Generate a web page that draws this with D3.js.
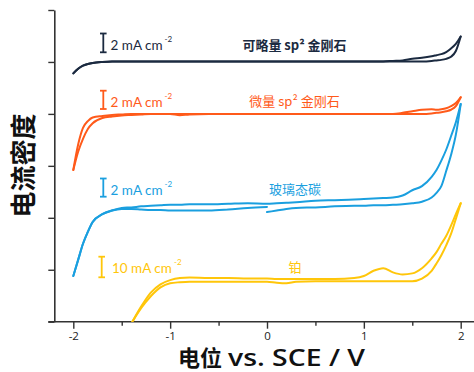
<!DOCTYPE html>
<html><head><meta charset="utf-8">
<script src="https://cdn.jsdelivr.net/npm/d3@7"></script>
<style>body{margin:0;background:#fff;} svg{display:block;}</style>
</head><body>
<svg id="c" width="474" height="372"></svg>
<script>
// ---- data (potential in V vs. SCE, current density in stacked plot units) ----
const potential = [-2, -1.95, -1.9, -1.85, -1.8, -1.7, -1.6, -1.5, -1.4, -1.3, -1.2, -1.1, -1, -0.9, -0.8, -0.6, -0.4, -0.2, 0, 0.1, 0.2, 0.3, 0.5, 0.7, 0.9, 1, 1.1, 1.2, 1.3, 1.4, 1.5, 1.6, 1.7, 1.75, 1.8, 1.85, 1.9, 1.95, 2];
const xTickValues = [-2, -1, 0, 1, 2];
const xMinorTickValues = [-1.5, -0.5, 0.5, 1.5];
const yTickValues = [0, 10, 20, 30, 40, 50, 60];
const seriesNames = ["可略量 sp² 金刚石", "微量 sp² 金刚石", "玻璃态碳", "铂"];
const scaleBarLabels = ["2 mA cm", "2 mA cm", "2 mA cm", "10 mA cm"];
const xTitleParts = ["电位", "vs. SCE / V"];
const yTitle = "电流密度";

const negligibleFwd = [47.8, 48.7, 49.3, 49.6, 49.8, 50.0, 50.1, 50.1, 50.1, 50.1, 50.1, 50.1, 50.1, 50.1, 50.1, 50.1, 50.1, 50.1, 50.1, 50.1, 50.1, 50.1, 50.1, 50.1, 50.1, 50.1, 50.1, 50.1, 50.2, 50.3, 50.6, 50.8, 51.1, 51.3, 51.5, 51.9, 52.6, 53.5, 54.9];
const negligibleRev = [47.8, 48.7, 49.3, 49.6, 49.8, 50.0, 50.1, 50.1, 50.1, 50.1, 50.1, 50.1, 50.1, 50.1, 50.1, 50.1, 50.1, 50.1, 50.1, 50.1, 50.1, 50.1, 50.1, 50.1, 50.1, 50.1, 50.1, 50.1, 50.1, 50.1, 50.1, 50.1, 50.2, 50.3, 50.4, 50.6, 51.0, 52.1, 54.9];

const traceFwd = [29.2, 32.7, 35.2, 37.1, 38.2, 39.2, 39.5, 39.7, 39.8, 39.9, 40.0, 40.0, 40.0, 40.0, 40.0, 40.0, 40.0, 40.0, 40.0, 40.0, 40.0, 40.0, 40.0, 40.0, 40.0, 40.0, 40.0, 40.0, 40.0, 40.2, 40.5, 40.8, 40.9, 40.8, 40.9, 41.1, 41.5, 42.1, 43.2];
const traceRev = [29.2, 34.1, 37.3, 38.6, 39.3, 39.6, 39.8, 39.9, 40.0, 40.0, 40.0, 40.0, 40.0, 39.75, 39.9, 40.0, 40.0, 40.0, 40.0, 40.0, 40.0, 40.0, 40.0, 40.0, 40.0, 40.0, 40.0, 40.0, 40.0, 40.0, 40.0, 40.0, 40.1, 40.2, 40.3, 40.5, 40.8, 41.5, 43.2];

const glassyFwd = [8.8, 11.9, 15.0, 17.3, 19.2, 20.7, 21.4, 21.9, 22.0, 22.2, 22.3, 22.4, 22.5, 22.5, 22.6, 22.6, 22.7, 22.8, 22.7, 22.8, 22.9, 23.0, 23.3, 23.4, 23.5, 23.6, 23.7, 23.8, 23.9, 24.3, 25.3, 26.1, 27.9, 29.2, 31.0, 33.1, 35.7, 38.4, 41.9];
const glassyRevHigh = [null, null, null, null, null, null, null, null, null, null, null, null, null, null, null, null, null, null, 21.1, 21.4, 21.7, 21.9, 22.0, 22.2, 22.3, 22.3, 22.4, 22.4, 22.5, 22.6, 22.8, 23.1, 23.9, 24.8, 26.1, 29.0, 32.1, 36.0, 41.9];
const glassyRevLow = [8.8, 11.9, 15.0, 17.3, 19.2, 20.7, 21.4, 21.7, 21.7, 21.6, 21.5, 21.5, 21.4, 21.4, 21.4, 21.4, 21.6, 21.9, 22.1, null, null, null, null, null, null, null, null, null, null, null, null, null, null, null, null, null, null, null, null];

const platinumFwd = [null, null, null, null, null, null, null, -3.3, -0.3, 2.9, 5.6, 7.2, 8.0, 8.4, 8.5, 8.4, 8.4, 8.3, 8.3, 8.2, 8.2, 8.2, 8.2, 8.2, 8.4, 8.8, 9.8, 10.3, 9.5, 9.1, 9.3, 10.3, 12.2, 13.4, 15.0, 16.5, 18.5, 20.7, 22.8];
const platinumRev = [null, null, null, null, null, null, null, -3.3, -0.3, 2.6, 4.9, 6.6, 7.4, 7.6, 7.7, 7.7, 7.7, 7.7, 7.7, 7.5, 7.4, 7.7, 7.8, 7.8, 7.8, 7.8, 7.8, 7.8, 7.8, 7.8, 7.8, 8.3, 9.8, 11.2, 12.8, 14.7, 16.9, 19.8, 22.8];

// ---- drawing ----
const colors = ["#1b2a40", "#ff5a1a", "#1a9fdf", "#ffc60a"];
const svg = d3.select("#c");
const x = d3.scaleLinear().domain([-2, 2]).range([73.3, 460.7]);
const y = d3.scaleLinear().domain([0, 60]).range([321.7, 10]);

svg.append("defs").append("clipPath").attr("id", "plot")
  .append("rect").attr("x", 54).attr("y", 0).attr("width", 420).attr("height", 321.7);

const axisColor = "#333";
// x axis
const gx = svg.append("g").attr("transform", `translate(0,${y(0)})`);
gx.call(d3.axisBottom(x).tickValues(xTickValues).tickSize(7).tickPadding(3).tickFormat(d => String(d)));
gx.select(".domain").remove();
gx.append("g").call(d3.axisBottom(x).tickValues(xMinorTickValues).tickSize(4).tickFormat(""))
  .select(".domain").remove();
gx.append("line").attr("x1", 48.3).attr("x2", 474).attr("y1", 0).attr("y2", 0)
  .attr("stroke", axisColor).attr("stroke-width", 1.6);
gx.selectAll(".tick line").attr("stroke", axisColor).attr("stroke-width", 1.4);
gx.selectAll(".tick text").attr("fill", "#222").attr("font-size", 11.5)
  .attr("font-family", "'Open Sans', 'DejaVu Sans', sans-serif");

// y axis
const gy = svg.append("g").attr("transform", `translate(54.3,0)`);
gy.call(d3.axisLeft(y).tickValues(yTickValues).tickSize(6).tickSizeOuter(0).tickFormat(""));
gy.select(".domain").attr("stroke", axisColor).attr("stroke-width", 1.6);
gy.selectAll(".tick line").attr("stroke", axisColor).attr("stroke-width", 1.4);

// curves
const line = d3.line()
  .defined(d => d[1] !== null)
  .x(d => x(d[0])).y(d => y(d[1]))
  .curve(d3.curveMonotoneX);
const zipE = arr => potential.map((e, i) => [e, arr[i]]);
const traces = [
  [negligibleFwd, 0], [negligibleRev, 0],
  [traceFwd, 1], [traceRev, 1],
  [glassyFwd, 2], [glassyRevHigh, 2], [glassyRevLow, 2],
  [platinumFwd, 3], [platinumRev, 3]
];
const gc = svg.append("g").attr("clip-path", "url(#plot)");
traces.forEach(([arr, k]) => {
  gc.append("path").attr("d", line(zipE(arr)))
    .attr("fill", "none").attr("stroke", colors[k])
    .attr("stroke-width", 2).attr("stroke-linejoin", "round").attr("stroke-linecap", "round");
});

// scale bars
const bars = [
  {x: 103.3, y1: 33.5, y2: 52.3, tx: 110.5, ty: 49.5},
  {x: 103.3, y1: 90.7, y2: 109, tx: 110.5, ty: 106.5},
  {x: 103.3, y1: 178.5, y2: 196.7, tx: 110.5, ty: 194.5},
  {x: 101.7, y1: 256.7, y2: 277.3, tx: 112, ty: 273}
];
bars.forEach((b, k) => {
  const g = svg.append("g").attr("stroke", colors[k]).attr("stroke-width", 1.8);
  g.append("line").attr("x1", b.x).attr("x2", b.x).attr("y1", b.y1).attr("y2", b.y2);
  g.append("line").attr("x1", b.x - 3.3).attr("x2", b.x + 3.3).attr("y1", b.y1).attr("y2", b.y1);
  g.append("line").attr("x1", b.x - 3.3).attr("x2", b.x + 3.3).attr("y1", b.y2).attr("y2", b.y2);
  const t = svg.append("text").attr("x", b.tx).attr("y", b.ty).attr("fill", colors[k])
    .attr("font-family", "Lato, 'Open Sans', sans-serif").attr("font-size", 13.5);
  t.append("tspan").text(scaleBarLabels[k]);
  t.append("tspan").attr("dx", 2).attr("dy", -8).attr("font-size", 8).text("-2");
});

// series labels
const labelPos = [
  {x: 294.5, y: 50},
  {x: 294.5, y: 106},
  {x: 295, y: 194},
  {x: 295, y: 272}
];
labelPos.forEach((p, k) => {
  svg.append("text").attr("x", p.x).attr("y", p.y).attr("text-anchor", "middle")
    .attr("fill", colors[k]).attr("font-size", 13).attr("font-weight", k === 0 ? "bold" : "normal")
    .attr("font-family", "'Noto Sans CJK SC', sans-serif").text(seriesNames[k]);
});

// axis titles
svg.append("text").attr("transform", "translate(21,165.5) rotate(-90)")
  .attr("text-anchor", "middle").attr("dominant-baseline", "central")
  .attr("font-size", 26).attr("font-weight", "bold").attr("fill", "#111")
  .attr("font-family", "'Noto Sans CJK SC', sans-serif").text(yTitle);
svg.append("text").attr("x", 178).attr("y", 366).attr("text-anchor", "start")
  .attr("font-size", 22).attr("font-weight", "bold").attr("fill", "#111")
  .attr("font-family", "'Noto Sans CJK SC', sans-serif").text(xTitleParts[0]);
svg.append("text").attr("x", 228).attr("y", 365.5).attr("text-anchor", "start")
  .attr("font-size", 23.5).attr("font-weight", 600).attr("fill", "#111")
  .attr("textLength", 137).attr("lengthAdjust", "spacingAndGlyphs")
  .attr("font-family", "'Open Sans', sans-serif").text(xTitleParts[1]);
</script>
</body></html>
